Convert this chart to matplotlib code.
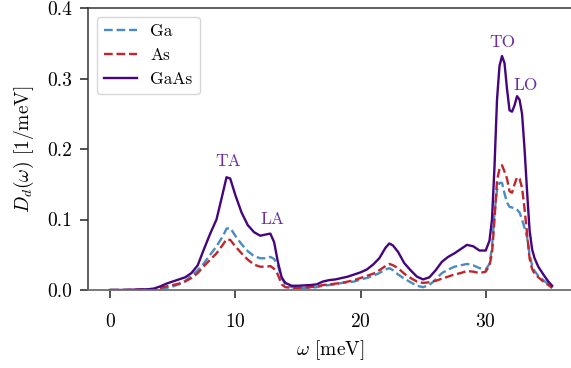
import matplotlib
matplotlib.use("Agg")
import matplotlib.pyplot as plt

plt.rcParams["font.family"] = "serif"
plt.rcParams["font.serif"] = ["cmr10", "DejaVu Serif"]
plt.rcParams["mathtext.fontset"] = "cm"
plt.rcParams["axes.formatter.use_mathtext"] = True

# phonon energy grid [meV]
omega = [0, 1, 2, 3, 3.5, 4, 4.5, 5, 5.5, 6, 6.5, 7, 7.5, 8, 8.5, 9, 9.3, 9.6, 10,
         10.5, 11, 11.5, 12, 12.5, 12.8, 13.1, 13.4, 13.7, 14, 14.5, 15, 16, 16.5,
         17, 17.5, 18, 18.5, 19, 19.5, 20, 20.5, 21, 21.5, 22, 22.3, 22.6, 23, 23.5,
         24, 24.5, 25, 25.5, 26, 26.5, 27, 27.5, 28, 28.5, 29, 29.5, 30, 30.3, 30.5,
         30.7, 30.9, 31.1, 31.3, 31.5, 31.7, 31.9, 32.1, 32.3, 32.5, 32.7, 32.9, 33.1,
         33.3, 33.5, 33.7, 33.9, 34.2, 34.6, 35, 35.3]

dos_ga = [0, 0, 0, 0.0005, 0.001, 0.002, 0.003, 0.005, 0.008, 0.013, 0.02, 0.028,
          0.038, 0.05, 0.062, 0.076, 0.087, 0.088, 0.077, 0.065, 0.055, 0.048, 0.045,
          0.045, 0.047, 0.044, 0.035, 0.017, 0.008, 0.004, 0.003, 0.003, 0.004, 0.006,
          0.007, 0.008, 0.01, 0.011, 0.012, 0.015, 0.017, 0.02, 0.024, 0.029, 0.031,
          0.028, 0.022, 0.016, 0.011, 0.006, 0.004, 0.007, 0.015, 0.024, 0.029, 0.033,
          0.035, 0.037, 0.035, 0.031, 0.029, 0.037, 0.06, 0.11, 0.142, 0.152, 0.152,
          0.137, 0.124, 0.118, 0.117, 0.116, 0.114, 0.11, 0.1, 0.088, 0.075, 0.05,
          0.035, 0.027, 0.02, 0.014, 0.008, 0.003]

dos_as = [0, 0, 0.0003, 0.0008, 0.001, 0.003, 0.005, 0.007, 0.009, 0.012, 0.017,
          0.024, 0.034, 0.043, 0.052, 0.064, 0.072, 0.071, 0.062, 0.052, 0.043, 0.036,
          0.033, 0.033, 0.034, 0.03, 0.022, 0.008, 0.004, 0.003, 0.003, 0.004, 0.005,
          0.007, 0.008, 0.009, 0.01, 0.012, 0.014, 0.017, 0.02, 0.023, 0.028, 0.034,
          0.037, 0.035, 0.031, 0.023, 0.017, 0.012, 0.01, 0.011, 0.013, 0.016, 0.019,
          0.022, 0.024, 0.027, 0.026, 0.024, 0.026, 0.035, 0.052, 0.1, 0.155, 0.172,
          0.177, 0.168, 0.158, 0.14, 0.138, 0.15, 0.16, 0.158, 0.145, 0.115, 0.08,
          0.045, 0.03, 0.023, 0.018, 0.012, 0.007, 0.003]

dos_gaas = [0, 0, 0.0005, 0.001, 0.002, 0.005, 0.009, 0.012, 0.015, 0.018, 0.024,
            0.035, 0.058, 0.08, 0.1, 0.137, 0.16, 0.158, 0.135, 0.11, 0.092, 0.082,
            0.077, 0.079, 0.08, 0.068, 0.04, 0.018, 0.01, 0.006, 0.006, 0.007, 0.008,
            0.012, 0.014, 0.015, 0.017, 0.019, 0.022, 0.025, 0.029, 0.036, 0.045, 0.06,
            0.066, 0.063, 0.054, 0.038, 0.028, 0.019, 0.015, 0.018, 0.028, 0.04, 0.047,
            0.052, 0.058, 0.064, 0.062, 0.056, 0.056, 0.07, 0.1, 0.175, 0.27, 0.318,
            0.332, 0.322, 0.285, 0.255, 0.253, 0.262, 0.275, 0.27, 0.25, 0.2, 0.14,
            0.085, 0.058, 0.045, 0.033, 0.022, 0.012, 0.006]

mode_labels = ["TA", "LA", "TO", "LO"]
mode_pos = [(9.4, 0.172), (13.0, 0.090), (31.3, 0.340), (33.2, 0.280)]

fig = plt.figure(figsize=(5.71, 3.68), dpi=100)
ax = fig.add_axes([0.154, 0.212, 0.848, 0.766])

ax.plot(omega, dos_ga, ls="--", color="#4a8cbf", lw=1.7, label="Ga")
ax.plot(omega, dos_as, ls="--", color="#c0262b", lw=1.7, label="As")
ax.plot(omega, dos_gaas, ls="-", color="#45057f", lw=1.7, label="GaAs")

for lab, (xx, yy) in zip(mode_labels, mode_pos):
    ax.text(xx, yy, lab, color="#6a2fa0", fontsize=12.5, ha="center", va="bottom")

ax.set_xlim(-1.765, 36.9)
ax.set_ylim(0, 0.4)
ax.set_xticks([0, 10, 20, 30])
ax.set_yticks([0.0, 0.1, 0.2, 0.3, 0.4])
ax.set_yticklabels(["0.0", "0.1", "0.2", "0.3", "0.4"])
ax.tick_params(direction="out", length=5.5, width=1.2, labelsize=14, color="#333333")
ax.tick_params(axis="x", pad=11)
ax.tick_params(axis="y", pad=6)
ax.spines["right"].set_visible(False)
ax.spines["left"].set_color("#333333")
ax.spines["top"].set_color("#333333")
ax.spines["bottom"].set_color("#6e6e6e")
for sp in ax.spines.values():
    sp.set_linewidth(1.1)
ax.spines["bottom"].set_linewidth(1.3)

ax.set_xlabel(r"$\omega$ [meV]", fontsize=14, labelpad=5)
ax.set_ylabel(r"$D_d(\omega)$ [1/meV]", fontsize=14, labelpad=8)

ax.legend(loc="upper left", fontsize=12.5, frameon=True, fancybox=True,
          edgecolor="#cccccc", handlelength=1.9)

fig.savefig("out.png", dpi=100)
